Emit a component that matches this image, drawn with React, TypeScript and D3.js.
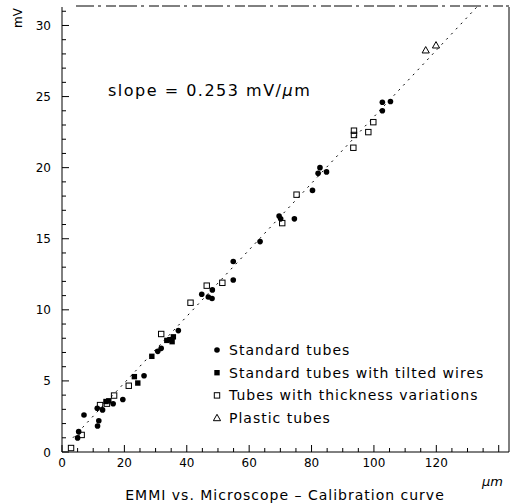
import React from "react";
import * as d3 from "d3";

// Standard tubes (filled circles)
const stdX = [5.0, 5.35, 7.05, 11.3, 11.8, 11.4, 13.0, 16.4, 19.5, 26.3, 30.7, 31.8, 37.3, 44.8, 46.9, 48.1, 48.2, 54.9, 54.9, 63.5, 69.6, 70.1, 74.5, 80.3, 82.7, 82.1, 84.8, 102.7, 102.7, 105.3];
const stdY = [0.99, 1.43, 2.6, 3.08, 2.2, 1.83, 2.96, 3.39, 3.69, 5.36, 7.08, 7.29, 8.54, 11.1, 10.9, 10.8, 11.4, 13.4, 12.1, 14.8, 16.6, 16.4, 16.4, 18.4, 20.0, 19.6, 19.7, 24.0, 24.6, 24.65];
// Standard tubes with tilted wires (filled squares)
const tiltX = [14.1, 15.0, 23.2, 24.3, 28.8, 33.6, 34.6, 35.3, 35.7];
const tiltY = [3.55, 3.6, 5.3, 4.85, 6.73, 7.85, 7.9, 7.76, 8.1];
// Tubes with thickness variations (open squares)
const thickX = [2.9, 6.3, 12.2, 14.4, 16.7, 21.4, 31.8, 41.2, 46.4, 51.4, 70.6, 75.2, 93.6, 93.6, 93.4, 98.2, 99.8];
const thickY = [0.28, 1.2, 3.3, 3.4, 3.97, 4.66, 8.3, 10.5, 11.7, 11.9, 16.1, 18.1, 22.3, 22.6, 21.4, 22.5, 23.2];
// Plastic tubes (open triangles)
const plasticX = [116.6, 119.9];
const plasticY = [28.25, 28.6];

// calibration fit
const fitX = [3.5, 133];
const fitY = [1.0, 31.3];

const xTicks = [0, 20, 40, 60, 80, 100, 120];
const yTicks = [0, 5, 10, 15, 20, 25, 30];
const legendLabels = [
  "Standard tubes",
  "Standard tubes with tilted wires",
  "Tubes with thickness variations",
  "Plastic tubes",
];

const W = 512;
const H = 504;
const left = 62, right = 509, top = 7, bottom = 452;
const font = "DejaVu Sans, sans-serif";

const Marker = ({ kind, x, y }: { kind: number; x: number; y: number }) => {
  if (kind === 0) return <circle cx={x} cy={y} r={2.8} fill="#000" />;
  if (kind === 1) return <rect x={x - 2.7} y={y - 2.7} width={5.4} height={5.4} fill="#000" />;
  if (kind === 2)
    return <rect x={x - 2.7} y={y - 2.7} width={5.4} height={5.4} fill="none" stroke="#000" strokeWidth={1} />;
  return (
    <path
      d={`M${x},${y - 3.8}L${x + 3.6},${y + 2.6}L${x - 3.6},${y + 2.6}Z`}
      fill="none"
      stroke="#000"
      strokeWidth={1}
    />
  );
};

export default function App() {
  const x = d3.scaleLinear().domain([0, 143.3]).range([left, right]);
  const y = d3.scaleLinear().domain([0, 31.3]).range([bottom, top]);

  const series = [
    { xs: stdX, ys: stdY },
    { xs: tiltX, ys: tiltY },
    { xs: thickX, ys: thickY },
    { xs: plasticX, ys: plasticY },
  ];

  const xMinor = d3.range(0, 143, 5);
  const yMinor = d3.range(0, 32, 1);

  const line = d3
    .line<number>()
    .x((d, i) => x(fitX[i]))
    .y((d) => y(d));

  return (
    <svg
      width={W}
      height={H}
      style={{ position: "absolute", left: 0, top: 0, background: "#fff" }}
      fontFamily={font}
    >
      <rect width={W} height={H} fill="#fff" />
      <defs>
        <clipPath id="plot">
          <rect x={left} y={top} width={right - left} height={bottom - top} />
        </clipPath>
      </defs>

      {/* frame */}
      <line x1={left} x2={left} y1={top} y2={bottom} stroke="#000" strokeWidth={1} />
      <line x1={left} x2={right} y1={bottom} y2={bottom} stroke="#000" strokeWidth={1} />
      <line x1={right} x2={right} y1={top} y2={bottom} stroke="#000" strokeWidth={1} />
      <line
        x1={left + 14}
        x2={right}
        y1={top - 1}
        y2={top - 1}
        stroke="#000"
        strokeWidth={1}
        strokeDasharray="18,4,3,5,10,3"
      />

      {/* y ticks */}
      {yMinor.map((v) => (
        <line
          key={"ym" + v}
          x1={left}
          x2={left + (v % 5 === 0 ? 7 : 4)}
          y1={y(v)}
          y2={y(v)}
          stroke="#000"
          strokeWidth={1}
        />
      ))}
      {yTicks.map((v) => (
        <text key={"yt" + v} x={51} y={y(v) + 4.5} fontSize={12} textAnchor="end">
          {v}
        </text>
      ))}

      {/* x ticks */}
      {xMinor.map((v) => (
        <line
          key={"xm" + v}
          x1={x(v)}
          x2={x(v)}
          y1={bottom}
          y2={bottom - (v % 20 === 0 ? 7 : 4)}
          stroke="#000"
          strokeWidth={1}
        />
      ))}
      {xTicks.map((v) => (
        <text key={"xt" + v} x={x(v)} y={467} fontSize={12} textAnchor="middle">
          {v}
        </text>
      ))}

      {/* fit line */}
      <path
        d={line(fitY) || ""}
        fill="none"
        stroke="#000"
        strokeWidth={1}
        strokeDasharray="2,5"
        clipPath="url(#plot)"
      />

      {series.map((s, k) =>
        s.xs.map((xv, i) => <Marker key={k + "-" + i} kind={k} x={x(xv)} y={y(s.ys[i])} />)
      )}

      <text x={108} y={96} fontSize={16} letterSpacing={1.5}>
        slope = 0.253 mV/<tspan fontStyle="italic">μ</tspan>m
      </text>

      {/* legend */}
      {legendLabels.map((lab, i) => {
        const ly = 350 + i * 22.7;
        return (
          <g key={lab}>
            <Marker kind={i} x={217} y={ly} />
            <text x={229} y={ly + 5} fontSize={14} letterSpacing={1}>
              {lab}
            </text>
          </g>
        );
      })}

      {/* axis titles */}
      <text x={285} y={500} fontSize={14} textAnchor="middle" letterSpacing={1}>
        EMMI vs. Microscope – Calibration curve
      </text>
      <text x={482} y={486} fontSize={13} fontStyle="italic">
        μm
      </text>
      <text transform="translate(22,18) rotate(-90)" fontSize={12} textAnchor="middle">
        mV
      </text>
    </svg>
  );
}
